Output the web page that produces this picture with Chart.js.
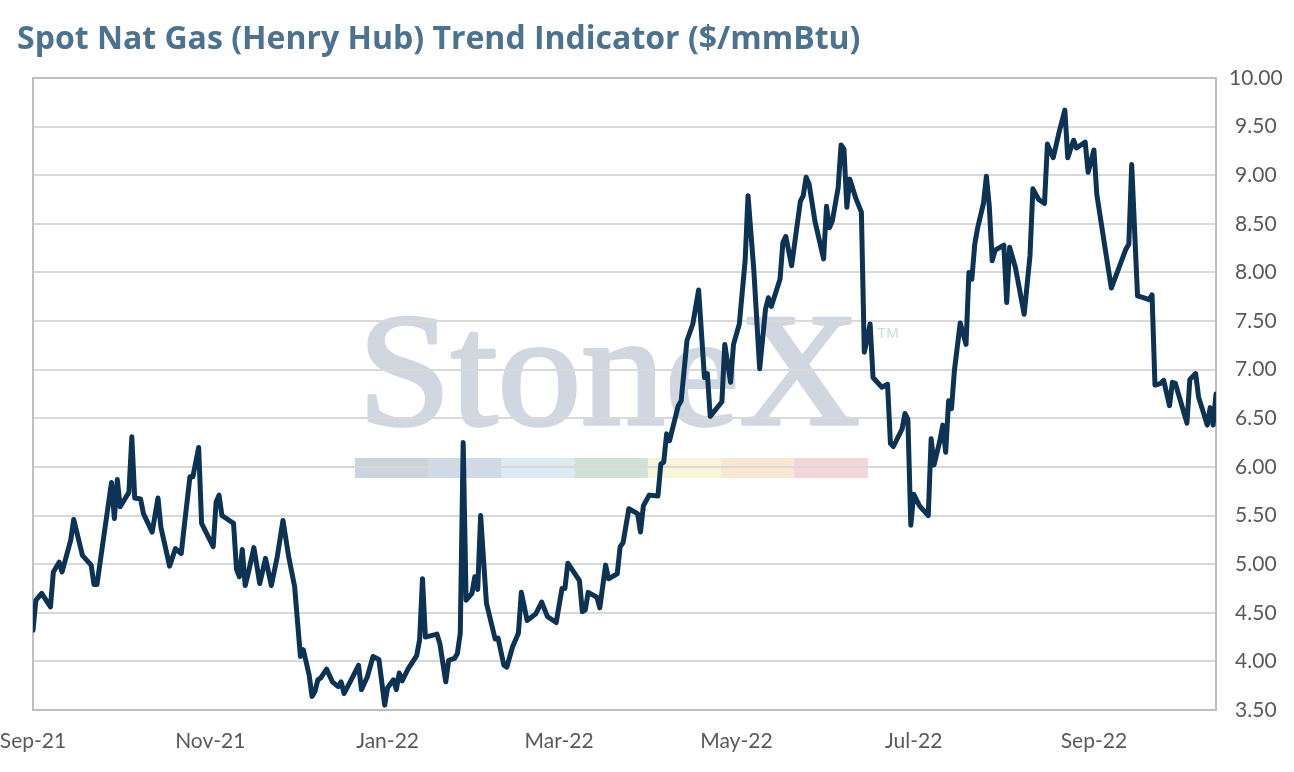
<!DOCTYPE html>
<html>
<head>
<meta charset="utf-8">
<script src="https://cdn.jsdelivr.net/npm/chart.js@4.4.1/dist/chart.umd.min.js"></script>
<style>
  html, body { margin: 0; padding: 0; background: #ffffff; }
  #wrap { position: relative; width: 1294px; height: 772px; overflow: hidden; }
  #title { position: absolute; left: 17px; top: 18px; font-family: "Open Sans", sans-serif; font-weight: 700; font-size: 32px; line-height: 38px; color: #4b7390; white-space: nowrap; z-index: 2; }
  #c { position: absolute; left: 0; top: 0; }
</style>
</head>
<body>
<div id="wrap">
  <div id="title">Spot Nat Gas (Henry Hub) Trend Indicator ($/mmBtu)</div>
  <canvas id="c" width="1294" height="772"></canvas>
</div>
<script>
// ---- Data ----
const START_DATE = '2021-09-01';
const daysSinceStart = [0,1,3,6,7,9,10,13,14,17,20,21,22,24,27,28,29,30,33,34,35,37,38,41,43,44,47,49,51,52,54,55,57,58,62,63,64,65,69,70,71,72,73,74,76,78,80,82,84,86,88,90,92,93,95,96,97,98,99,101,103,105,106,107,110,112,113,115,117,119,121,122,124,125,126,127,129,132,133,134,135,139,140,142,143,145,146,147,148,149,151,152,153,154,156,159,160,162,163,165,167,168,170,173,175,177,180,182,183,184,186,188,189,190,191,194,195,197,198,201,202,203,205,208,209,210,212,215,216,217,218,219,222,223,225,227,229,231,232,233,237,238,240,241,243,245,246,248,250,252,253,254,257,258,259,261,264,265,266,267,269,272,273,274,275,277,278,279,280,281,283,285,286,287,288,289,292,294,295,296,299,300,301,302,303,305,308,309,310,312,313,314,315,316,317,319,321,322,323,324,325,327,328,329,330,331,334,335,336,338,341,343,344,346,348,349,351,353,355,356,358,359,362,363,365,366,369,371,376,377,378,380,382,384,385,386,388,389,391,392,393,397,398,400,401,404,405,406,407];
const spotPrice = [4.32,4.63,4.70,4.56,4.92,5.02,4.92,5.25,5.46,5.09,4.99,4.79,4.79,5.21,5.84,5.47,5.87,5.59,5.74,6.31,5.68,5.67,5.52,5.33,5.68,5.38,4.98,5.16,5.11,5.38,5.90,5.90,6.20,5.42,5.18,5.64,5.71,5.50,5.42,4.95,4.87,5.15,4.78,4.90,5.17,4.80,5.06,4.78,5.07,5.45,5.07,4.77,4.05,4.12,3.86,3.64,3.69,3.81,3.83,3.92,3.79,3.74,3.79,3.67,3.84,3.96,3.71,3.84,4.05,4.02,3.55,3.73,3.81,3.71,3.88,3.80,3.92,4.06,4.22,4.85,4.25,4.28,4.18,3.79,4.01,4.03,4.08,4.29,6.25,4.63,4.70,4.87,4.74,5.50,4.60,4.23,4.24,3.96,3.94,4.15,4.29,4.71,4.42,4.49,4.61,4.46,4.40,4.75,4.75,5.01,4.92,4.83,4.51,4.53,4.71,4.66,4.55,4.99,4.85,4.90,5.18,5.22,5.57,5.52,5.33,5.60,5.71,5.70,6.03,6.05,6.34,6.27,6.63,6.68,7.30,7.47,7.82,6.92,6.96,6.52,6.67,7.26,6.87,7.26,7.47,8.12,8.79,8.02,7.01,7.62,7.74,7.65,7.93,8.31,8.37,8.07,8.73,8.79,8.98,8.91,8.53,8.14,8.68,8.46,8.53,8.87,9.31,9.27,8.67,8.96,8.77,8.62,7.18,7.32,7.47,6.92,6.82,6.85,6.24,6.21,6.39,6.55,6.49,5.40,5.72,5.60,5.50,6.29,6.02,6.27,6.43,6.15,6.68,6.60,6.99,7.48,7.26,8.00,7.93,8.29,8.46,8.71,8.99,8.68,8.12,8.23,8.28,7.69,8.26,8.05,7.57,8.17,8.86,8.75,8.71,9.32,9.18,9.44,9.67,9.18,9.36,9.28,9.34,9.03,9.26,8.80,8.22,7.84,8.24,8.29,9.11,7.76,7.74,7.72,7.77,6.84,6.86,6.89,6.63,6.87,6.86,6.45,6.90,6.96,6.72,6.43,6.61,6.43,6.75];
const xTickDates = ['2021-09-01','2021-11-01','2022-01-01','2022-03-01','2022-05-01','2022-07-01','2022-09-01'];
const xTickLabels = ['Sep-21','Nov-21','Jan-22','Mar-22','May-22','Jul-22','Sep-22'];
const yTickValues = [3.5,4.0,4.5,5.0,5.5,6.0,6.5,7.0,7.5,8.0,8.5,9.0,9.5,10.0];

// ---- helpers ----
const DAY = 86400000;
const t0 = Date.parse(START_DATE + 'T00:00:00Z');
const xTickValues = xTickDates.map(d => Math.round((Date.parse(d + 'T00:00:00Z') - t0) / DAY));
const points = daysSinceStart.map((d, i) => ({ x: d, y: spotPrice[i] }));

const watermark = {
  id: 'watermark',
  beforeDraw(chart) {
    const ctx = chart.ctx;
    ctx.save();
    ctx.fillStyle = '#d0d7e0';
    ctx.strokeStyle = '#d0d7e0';
    ctx.lineWidth = 3.5;
    ctx.lineJoin = 'round';
    ctx.font = '162px "Liberation Serif", serif';
    ctx.textBaseline = 'alphabetic';
    ctx.textAlign = 'left';
    const txt = 'StoneX';
    const w = ctx.measureText(txt).width;
    ctx.save();
    ctx.translate(358, 424);
    ctx.scale(502 / w, 1);
    ctx.fillText(txt, 0, 0);
    ctx.strokeText(txt, 0, 0);
    ctx.restore();
    ctx.font = '15px "Liberation Sans", sans-serif';
    ctx.fillStyle = '#d3dae2';
    ctx.fillText('TM', 877, 338);
    const cols = ['#cdd4dd','#cfdae6','#deeaf3','#d0e1d7','#f8f5d8','#f9e7d2','#f2d6d8'];
    const x0 = 355, bw = 73.2;
    cols.forEach((c, i) => { ctx.fillStyle = c; ctx.fillRect(x0 + i * bw, 458, bw + 0.5, 20); });
    ctx.restore();
  }
};

const frame = {
  id: 'frame',
  beforeDatasetsDraw(chart) {
    const { ctx, chartArea: a } = chart;
    ctx.save();
    ctx.strokeStyle = '#bfbfbf';
    ctx.lineWidth = 2;
    ctx.strokeRect(a.left, a.top, a.right - a.left, a.bottom - a.top);
    ctx.restore();
  }
};

new Chart(document.getElementById('c'), {
  type: 'line',
  data: {
    datasets: [{
      data: points,
      borderColor: '#0c3254',
      borderWidth: 5,
      pointRadius: 0,
      tension: 0,
      fill: false,
      borderJoinStyle: 'round',
      borderCapStyle: 'round'
    }]
  },
  options: {
    responsive: false,
    animation: false,
    devicePixelRatio: 1,
    layout: { padding: { left: 33, top: 78, right: 0, bottom: 0 } },
    plugins: { legend: { display: false }, tooltip: { enabled: false }, title: { display: false } },
    scales: {
      x: {
        type: 'linear',
        min: daysSinceStart[0],
        max: daysSinceStart[daysSinceStart.length - 1],
        grid: { display: false, drawTicks: false },
        border: { display: false },
        afterBuildTicks(s) { s.ticks = xTickValues.map(v => ({ value: v })); },
        afterFit(s) { s.height = 62; s.paddingLeft = 0; s.paddingRight = 0; },
        ticks: {
          autoSkip: false, maxRotation: 0, padding: 19,
          color: '#595959', font: { family: 'Lato', size: 21 },
          callback(v) { const i = xTickValues.indexOf(v); return i >= 0 ? xTickLabels[i] : ''; }
        }
      },
      y: {
        position: 'right',
        min: yTickValues[0],
        max: yTickValues[yTickValues.length - 1],
        grid: { color: '#d9d9d9', lineWidth: 2, drawTicks: false },
        border: { display: false },
        afterBuildTicks(s) { s.ticks = yTickValues.map(v => ({ value: v })); },
        afterFit(s) { s.width = 78; s.paddingTop = 0; s.paddingBottom = 0; },
        ticks: {
          padding: 13, crossAlign: 'center',
          color: '#595959', font: { family: 'Lato', size: 21 },
          callback(v) { return Number(v).toFixed(2); }
        }
      }
    }
  },
  plugins: [watermark, frame]
});
</script>
</body>
</html>
